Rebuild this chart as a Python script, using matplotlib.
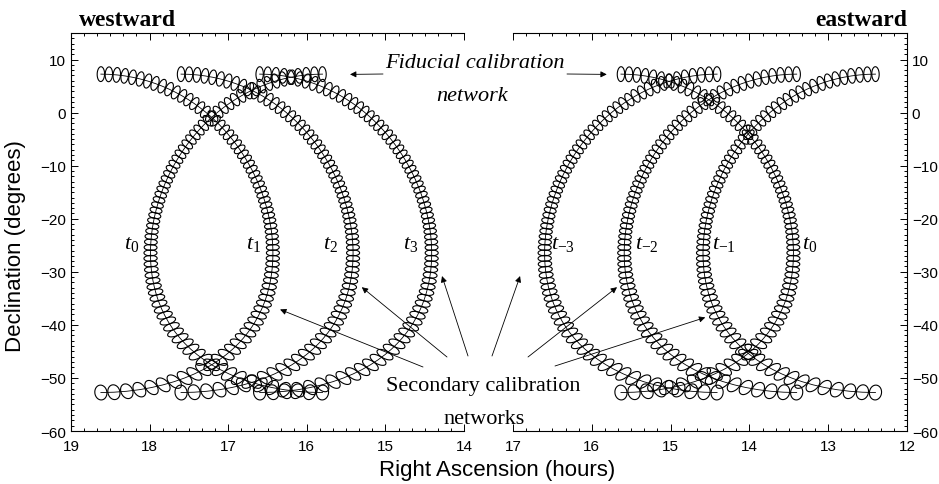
import numpy as np
import matplotlib
matplotlib.use('Agg')
import matplotlib.pyplot as plt
from matplotlib.collections import LineCollection
from matplotlib.ticker import MultipleLocator

plt.rcParams['font.family'] = ['Liberation Sans', 'DejaVu Sans']
plt.rcParams['mathtext.fontset'] = 'custom'
plt.rcParams['mathtext.rm'] = 'Liberation Serif'
plt.rcParams['mathtext.it'] = 'Liberation Serif:italic'

## Scan circle: tracks top out at +7.25 deg and bottom out at -52.75 deg
circle_dec = -22.75
circle_radius = 30.0

## Westward panel: RA (hours) of the ends of each track, bulge direction (+1 = towards larger RA)
west_ra = [18.62, 17.60, 16.60, 15.80]
west_bulge = [-1, -1, -1, 1]
west_labels = [r'$t_1$', r'$t_2$', r'$t_3$', r'$t_0$']
west_label_ra = [16.68, 15.70, 14.68, 18.23]

## Eastward panel
east_ra = [14.41, 13.40, 12.40, 15.63]
east_bulge = [1, 1, 1, -1]
east_labels = [r'$t_{\mathrm{-3}}$', r'$t_{\mathrm{-2}}$', r'$t_{\mathrm{-1}}$', r'$t_0$']
east_label_ra = [16.36, 15.30, 14.32, 13.23]

label_dec = -24.5

## Arrow heads (RA, Dec) for the secondary networks, and arrow tails (figure pixels)
west_arrow_head = [(16.34, -37.1), (15.30, -32.9), (14.28, -30.8)]
west_arrow_tail = [(423, 368), (447, 358), (468, 357)]
east_arrow_head = [(16.91, -30.8), (15.68, -32.9), (14.56, -38.6)]
east_arrow_tail = [(492, 357), (528, 358), (555, 367)]

W, H = 939, 485


def track(ra_c, bulge):
    # positions along the scan circle (deg), denser in the middle of the track
    phi = [0.0]
    while phi[-1] < 178.5:
        phi.append(phi[-1] + 2.0 + np.cos(np.radians(phi[-1])) ** 2)
    phi = np.array(phi) * 180.0 / phi[-1]

    dc = np.radians(circle_dec)
    r = np.radians(circle_radius)
    th = np.radians(bulge * phi)
    sin_dec = np.sin(dc) * np.cos(r) + np.cos(dc) * np.sin(r) * np.cos(th)
    dec = np.arcsin(sin_dec)
    dra = np.arctan2(np.sin(th) * np.sin(r) * np.cos(dc), np.cos(r) - np.sin(dc) * sin_dec)
    ra = ra_c + np.degrees(dra) / 15.0
    dec_deg = np.degrees(dec)

    # direction of motion in local sky coordinates
    de = np.gradient(ra) * 15.0 * np.cos(dec)
    dn = np.gradient(dec_deg)
    norm = np.hypot(de, dn)
    ue, un = de / norm, dn / norm

    c2 = np.cos(np.radians(phi)) ** 2
    a = 0.55 + 0.15 * c2   # half size along the track
    b = 1.10 + 0.30 * c2   # half size across the track

    t = np.linspace(0, 2 * np.pi, 33)
    segs = []
    for i in range(len(phi)):
        e = a[i] * np.cos(t) * ue[i] - b[i] * np.sin(t) * un[i]
        n = a[i] * np.cos(t) * un[i] + b[i] * np.sin(t) * ue[i]
        xs = ra[i] + e / (15.0 * np.cos(dec[i]))
        ys = dec_deg[i] + n
        segs.append(np.column_stack([xs, ys]))
    return ra, dec_deg, segs


def draw_panel(ax, ras, bulges):
    for ra_c, bulge in zip(ras, bulges):
        ra, dec, segs = track(ra_c, bulge)
        ax.plot(ra, dec, color='black', lw=0.6)
        ax.add_collection(LineCollection(segs, colors='black', linewidths=0.8))


fig = plt.figure(figsize=(W / 100, H / 100), dpi=100)
bottom = 1 - 432 / H
height = (432 - 34) / H
axw = fig.add_axes([71 / W, bottom, (464 - 71) / W, height])
axe = fig.add_axes([513 / W, bottom, (907 - 513) / W, height])

draw_panel(axw, west_ra, west_bulge)
draw_panel(axe, east_ra, east_bulge)

axw.set_xlim(19, 14)
axe.set_xlim(17, 12)
for ax in (axw, axe):
    ax.set_ylim(-60, 15)
    ax.set_yticks(range(-60, 11, 10))
    ax.xaxis.set_minor_locator(MultipleLocator(1 / 6))
    ax.yaxis.set_minor_locator(MultipleLocator(1))
    for s in ax.spines.values():
        s.set_linewidth(0.8)
    ax.tick_params(which='both', direction='in', top=True, labelsize=11, width=0.7)
    ax.tick_params(which='major', length=5)
    ax.tick_params(which='minor', length=2.5)
    ax.tick_params(axis='x', pad=6)
axw.set_xticks(range(19, 13, -1))
axe.set_xticks(range(17, 11, -1))
axw.spines['right'].set_visible(False)
axw.tick_params(which='both', right=False)
axe.spines['left'].set_visible(False)
axe.tick_params(which='both', left=False, right=True, labelleft=False, labelright=True)

## Track labels
for lab, x in zip(west_labels, west_label_ra):
    axw.text(x, label_dec, lab, fontsize=16, ha='center', va='center')
for lab, x in zip(east_labels, east_label_ra):
    axe.text(x, label_dec, lab, fontsize=16, ha='center', va='center')

serif = ['Liberation Serif', 'DejaVu Serif']
fig.text(79 / W, 1 - 20 / H, 'westward', family=serif, weight='bold', fontsize=17, va='center')
fig.text(907 / W, 1 - 20 / H, 'eastward', family=serif, weight='bold', fontsize=17, va='center', ha='right')

fig.text(16 / W, 1 - 246 / H, 'Declination (degrees)', rotation=90, fontsize=16, ha='center', va='center')
fig.text(497 / W, 1 - 471 / H, 'Right Ascension (hours)', fontsize=16, ha='center', va='center')

## Fiducial network
fig.text(475 / W, 1 - 63 / H, 'Fiducial calibration', family=serif, style='italic', fontsize=16, ha='center', va='center')
fig.text(472 / W, 1 - 97 / H, 'network', family=serif, style='italic', fontsize=16, ha='center', va='center')
arrow = dict(arrowstyle='-|>', lw=0.6, color='black', mutation_scale=9, shrinkA=0, shrinkB=0)
axw.annotate('', xy=(15.45, 7.2), xytext=(383 / W, 1 - 75 / H), textcoords='figure fraction', arrowprops=arrow)
axe.annotate('', xy=(15.81, 7.2), xytext=(567 / W, 1 - 75 / H), textcoords='figure fraction', arrowprops=arrow)

## Secondary networks
fig.text(483 / W, 1 - 387 / H, 'Secondary calibration', family=serif, fontsize=16, ha='center', va='center')
fig.text(484 / W, 1 - 419 / H, 'networks', family=serif, fontsize=16, ha='center', va='center')
for head, tail in zip(west_arrow_head, west_arrow_tail):
    axw.annotate('', xy=head, xytext=(tail[0] / W, 1 - tail[1] / H), textcoords='figure fraction', arrowprops=arrow)
for head, tail in zip(east_arrow_head, east_arrow_tail):
    axe.annotate('', xy=head, xytext=(tail[0] / W, 1 - tail[1] / H), textcoords='figure fraction', arrowprops=arrow)

fig.savefig('out.png', dpi=100)
